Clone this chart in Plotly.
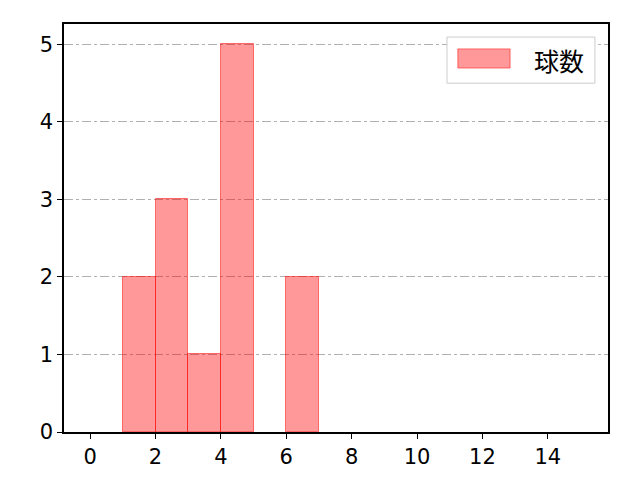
import plotly.graph_objects as go

# 球数の分布 (ビン幅 1)
bin_left = [1, 2, 3, 4, 6]
counts = [2, 3, 1, 5, 2]
x_ticks = [0, 2, 4, 6, 8, 10, 12, 14]
y_ticks = [0, 1, 2, 3, 4, 5]
legend_label = '球数'

bar_fill = 'rgba(255,0,0,0.4)'
bar_edge = 'rgba(255,0,0,0.5)'

fig = go.Figure()
fig.add_trace(go.Bar(
    x=[b + 0.5 for b in bin_left],
    y=counts,
    width=1,
    name=legend_label,
    marker=dict(color=bar_fill, line=dict(color=bar_edge, width=1)),
    showlegend=False,
))

tick_font = dict(family='DejaVu Sans', size=21, color='black')
axis_common = dict(
    showline=True, linecolor='black', linewidth=1.5, mirror=True,
    ticks='outside', ticklen=5, tickwidth=1.2, tickcolor='black',
    zeroline=False, tickfont=tick_font,
)

# matplotlib風の凡例を手で描く
fig.add_shape(type='rect', xref='paper', yref='paper',
              x0=0.704, x1=0.976, y0=0.855, y1=0.968,
              line=dict(color='#cccccc', width=1), fillcolor='white',
              layer='above')
fig.add_shape(type='rect', xref='paper', yref='paper',
              x0=0.724, x1=0.820, y0=0.892, y1=0.939,
              line=dict(color=bar_edge, width=1), fillcolor=bar_fill,
              layer='above')
fig.add_annotation(xref='paper', yref='paper', x=0.860, y=0.912,
                   xanchor='left', yanchor='middle', showarrow=False,
                   text=legend_label,
                   font=dict(family='Noto Sans CJK JP', size=25, color='black'))

fig.update_layout(
    width=640, height=480,
    margin=dict(l=56, r=40, t=16, b=56),
    paper_bgcolor='white', plot_bgcolor='white',
    font=dict(family='DejaVu Sans', color='black', size=21),
    bargap=0,
    xaxis=dict(range=[-0.8, 15.84], tickvals=x_ticks, showgrid=False, **axis_common),
    yaxis=dict(range=[0, 5.26], tickvals=y_ticks, showgrid=True,
               gridcolor='#b0b0b0', griddash='dashdot', gridwidth=1, **axis_common),
)

fig.write_html("out.html")
